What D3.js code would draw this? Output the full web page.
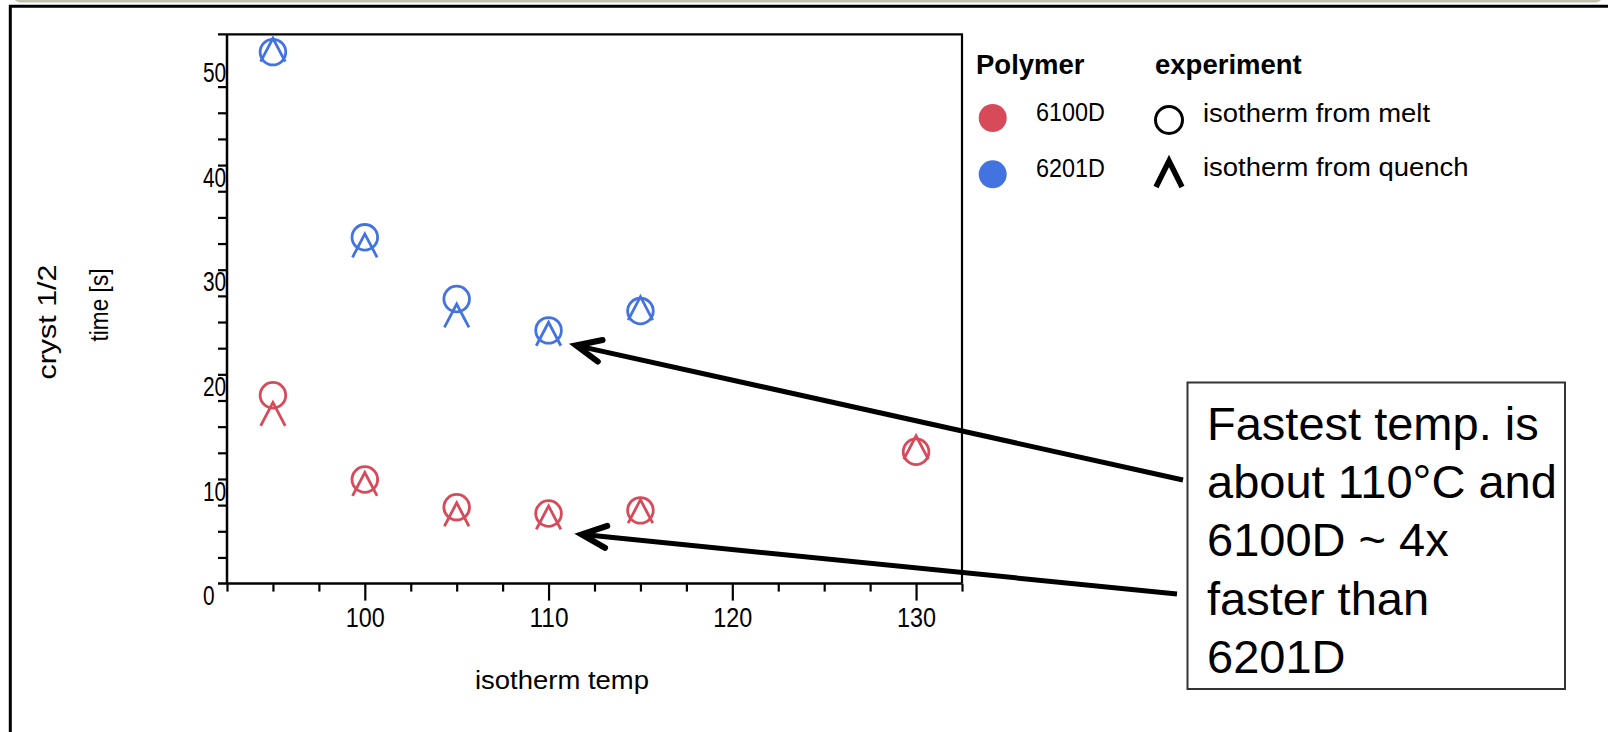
<!DOCTYPE html>
<html>
<head>
<meta charset="utf-8">
<script src="https://cdn.jsdelivr.net/npm/d3@7"></script>
<style>
  html, body { margin: 0; padding: 0; background: #fff; }
  svg { display: block; }
  text { font-family: "Liberation Sans", Arial, Helvetica, sans-serif; fill: #000; }
</style>
</head>
<body>
<svg id="chart" width="1608" height="732"></svg>
<script>
// ---- data ----
const temps = [95, 100, 105, 110, 115, 130];
const melt6100D   = [20.5, 12.45, 9.8, 9.2, 9.5, 15.1];
const quench6100D = [18.7, 12.0, 9.1, 8.8, 9.4, 15.5];
const temps6201D  = [95, 100, 105, 110, 115];
const melt6201D   = [53.3, 35.6, 29.7, 26.7, 28.55];
const quench6201D = [53.5, 34.8, 28.1, 26.35, 28.8];

const polymers = ["6100D", "6201D"];
const polymerColors = ["#d64a5a", "#4373e0"];
const experiments = ["isotherm from melt", "isotherm from quench"];

const xDomain = [92.5, 132.5];
const yDomain = [0, 55];
const yAxisBase = 2.5;
const xMajorTicks = [100, 110, 120, 130];
const yMajorTicks = [0, 10, 20, 30, 40, 50];

const noteLines = ["Fastest temp. is", "about 110\u00B0C and", "6100D ~ 4x", "faster than", "6201D"];
// arrow targets in data units (temp, time)
const arrowTargets = [[111.5, 25.26], [111.8, 7.2]];

// ---- build rows ----
const rows = [];
temps.forEach((t, i) => {
  rows.push({polymer: "6100D", exp: "isotherm from melt", t, v: melt6100D[i]});
  rows.push({polymer: "6100D", exp: "isotherm from quench", t, v: quench6100D[i]});
});
temps6201D.forEach((t, i) => {
  rows.push({polymer: "6201D", exp: "isotherm from melt", t, v: melt6201D[i]});
  rows.push({polymer: "6201D", exp: "isotherm from quench", t, v: quench6201D[i]});
});

const svg = d3.select("#chart");
const color = d3.scaleOrdinal().domain(polymers).range(polymerColors);

const x = d3.scaleLinear().domain(xDomain).range([227, 962]);
const y = d3.scaleLinear().domain(yDomain).range([609.75, 34.3]);
const yBase = y(yAxisBase);

// ---- outer slide frame ----
svg.append("rect").attr("x", 14).attr("y", -12).attr("width", 1588).attr("height", 14.5)
  .attr("rx", 6).attr("fill", "#c3c1b0");
svg.append("path").attr("d", `M10.3,732 L10.3,6.2 L1608,6.2`)
  .attr("fill", "none").attr("stroke", "#000").attr("stroke-width", 3);

// ---- y tick labels (drawn first, partially covered by plot area) ----
svg.append("g").selectAll("text").data(yMajorTicks).join("text")
  .attr("x", 203).attr("y", d => y(d) - 4.5)
  .attr("font-size", 27)
  .attr("textLength", d => String(d).length * 11.6)
  .attr("lengthAdjust", "spacingAndGlyphs")
  .text(d => d);

// plot background covering label overflow
svg.append("rect").attr("x", x(xDomain[0])).attr("y", y(yDomain[1]))
  .attr("width", x(xDomain[1]) - x(xDomain[0])).attr("height", yBase - y(yDomain[1]))
  .attr("fill", "#fff");

// ---- y axis ticks ----
const yTickVals = d3.range(5, 50.1, 2.5);
const gy = svg.append("g").attr("transform", `translate(${x(xDomain[0])},0)`)
  .call(d3.axisLeft(y).tickValues(yTickVals).tickSize(9).tickSizeOuter(0).tickFormat(""));
gy.select(".domain").remove();
gy.selectAll("line").attr("stroke", "#000").attr("stroke-width", 2.2);

// ---- x axis ticks ----
const xMinor = d3.range(xDomain[0], xDomain[1] + 0.01, 2.5).filter(v => !xMajorTicks.includes(v));
const gxm = svg.append("g").attr("transform", `translate(0,${yBase})`)
  .call(d3.axisBottom(x).tickValues(xMinor).tickSize(8).tickSizeOuter(0).tickFormat(""));
gxm.select(".domain").remove();
gxm.selectAll("line").attr("stroke", "#000").attr("stroke-width", 2.2);
const gx = svg.append("g").attr("transform", `translate(0,${yBase})`)
  .call(d3.axisBottom(x).tickValues(xMajorTicks).tickSize(17).tickSizeOuter(0).tickPadding(7));
gx.select(".domain").remove();
gx.selectAll("line").attr("stroke", "#000").attr("stroke-width", 2.2);
gx.selectAll("text").attr("font-size", 27).attr("font-family", null).attr("fill", "#000")
  .attr("textLength", 39).attr("lengthAdjust", "spacingAndGlyphs");

// ---- plot frame ----
const x0 = x(xDomain[0]), x1 = x(xDomain[1]), yT = y(yDomain[1]);
svg.append("path")
  .attr("d", `M${x0 - 9},${yT} L${x1},${yT} L${x1},${yBase}`)
  .attr("fill", "none").attr("stroke", "#000").attr("stroke-width", 2.2);
svg.append("path")
  .attr("d", `M${x0},${yT} L${x0},${yBase} M${x0 - 9},${yBase} L${x1},${yBase}`)
  .attr("fill", "none").attr("stroke", "#000").attr("stroke-width", 2.5);

// ---- axis titles ----
svg.append("text").attr("x", 562).attr("y", 680).attr("dy", "0.35em")
  .attr("text-anchor", "middle").attr("font-size", 26)
  .attr("textLength", 174).attr("lengthAdjust", "spacingAndGlyphs").text("isotherm temp");
svg.append("text").attr("transform", "translate(47,322) rotate(-90)").attr("dy", "0.35em")
  .attr("text-anchor", "middle").attr("font-size", 26)
  .attr("textLength", 115).attr("lengthAdjust", "spacingAndGlyphs").text("cryst 1/2");
svg.append("text").attr("transform", "translate(98.5,305) rotate(-90)").attr("dy", "0.35em")
  .attr("text-anchor", "middle").attr("font-size", 26)
  .attr("textLength", 73).attr("lengthAdjust", "spacingAndGlyphs").text("time [s]");

// ---- markers ----
const chevron = (w, h) => `M${-w},${h} L0,${-h} L${w},${h}`;
const marks = svg.append("g");
marks.selectAll("circle").data(rows.filter(r => r.exp === experiments[0])).join("circle")
  .attr("cx", d => x(d.t)).attr("cy", d => y(d.v)).attr("r", 12.8)
  .attr("fill", "none").attr("stroke", d => color(d.polymer)).attr("stroke-width", 2.8);
marks.selectAll("path").data(rows.filter(r => r.exp === experiments[1])).join("path")
  .attr("transform", d => `translate(${x(d.t)},${y(d.v)})`)
  .attr("d", chevron(12.3, 11.7))
  .attr("fill", "none").attr("stroke", d => color(d.polymer)).attr("stroke-width", 2.8);

// ---- legend ----
const lg = svg.append("g");
lg.append("text").attr("x", 976).attr("y", 74).attr("font-size", 27.5).attr("font-weight", "bold").text("Polymer");
lg.append("text").attr("x", 1155).attr("y", 74).attr("font-size", 27.5).attr("font-weight", "bold").text("experiment");
polymers.forEach((p, i) => {
  const cy = 118 + i * 56.3;
  lg.append("circle").attr("cx", 992.7).attr("cy", cy).attr("r", 14).attr("fill", color(p));
  lg.append("text").attr("x", 1036).attr("y", cy - 6).attr("dy", "0.35em").attr("font-size", 26)
    .attr("textLength", 69).attr("lengthAdjust", "spacingAndGlyphs").text(p);
});
lg.append("circle").attr("cx", 1169).attr("cy", 120).attr("r", 13.5)
  .attr("fill", "none").attr("stroke", "#000").attr("stroke-width", 3);
lg.append("path").attr("transform", "translate(1169,174)").attr("d", chevron(13, 13))
  .attr("fill", "none").attr("stroke", "#000").attr("stroke-width", 5.5);
const expLens = [227, 265.6];
experiments.forEach((e, i) => {
  lg.append("text").attr("x", 1203).attr("y", 113 + i * 54).attr("dy", "0.35em").attr("font-size", 26)
    .attr("textLength", expLens[i]).attr("lengthAdjust", "spacingAndGlyphs").text(e);
});

// ---- annotation ----
svg.append("rect").attr("x", 1187.5).attr("y", 382.5).attr("width", 377.5).attr("height", 306.5)
  .attr("fill", "#fff").attr("stroke", "#333").attr("stroke-width", 2);
svg.append("g").selectAll("text").data(noteLines).join("text")
  .attr("x", 1207).attr("y", (d, i) => 440 + i * 58.2)
  .attr("font-size", 47).text(d => d);

const tails = [[1183, 480], [1177, 594]];
arrowTargets.forEach((tg, i) => {
  const tx = x(tg[0]), ty = y(tg[1]);
  const [sx, sy] = tails[i];
  const ang = Math.atan2(sy - ty, sx - tx);
  const len = 27, spread = 0.42;
  const a1 = [tx + len * Math.cos(ang - spread), ty + len * Math.sin(ang - spread)];
  const a2 = [tx + len * Math.cos(ang + spread), ty + len * Math.sin(ang + spread)];
  svg.append("path").attr("d", `M${sx},${sy} L${tx + 4 * Math.cos(ang)},${ty + 4 * Math.sin(ang)}`)
    .attr("stroke", "#000").attr("stroke-width", 5).attr("fill", "none");
  svg.append("path").attr("d", `M${a1[0]},${a1[1]} L${tx},${ty} L${a2[0]},${a2[1]}`)
    .attr("stroke", "#000").attr("stroke-width", 6).attr("fill", "none")
    .attr("stroke-linejoin", "miter").attr("stroke-linecap", "round");
});
</script>
</body>
</html>
